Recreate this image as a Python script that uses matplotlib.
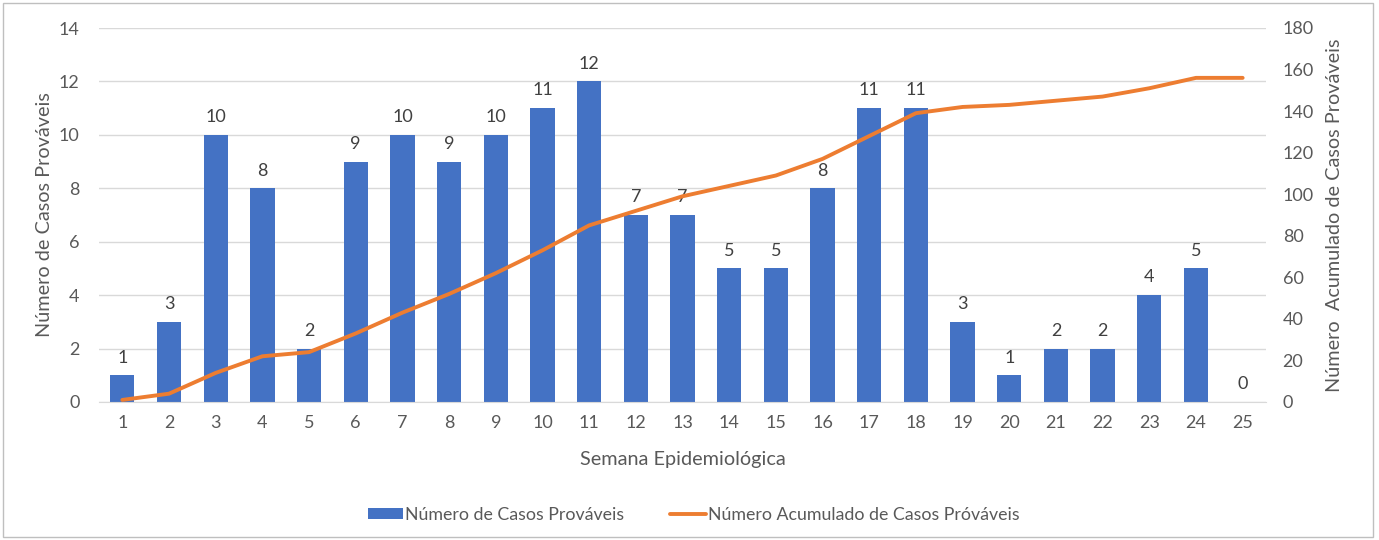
import matplotlib
matplotlib.use("Agg")
import matplotlib.pyplot as plt
from matplotlib.patches import Rectangle
import numpy as np

weeks = list(range(1, 26))
cases = [1, 3, 10, 8, 2, 9, 10, 9, 10, 11, 12, 7, 7, 5, 5, 8, 11, 11, 3, 1, 2, 2, 4, 5, 0]
cumulative = [1, 4, 14, 22, 24, 33, 43, 52, 62, 73, 85, 92, 99, 104, 109, 117, 128, 139, 142, 143, 145, 147, 151, 156, 156]

BLUE = "#4472C4"
ORANGE = "#ED7D31"
GRID = "#D9D9D9"
TXT = "#595959"

plt.rcParams['font.family'] = ['Lato', 'DejaVu Sans']

W, H = 1379, 540
fig = plt.figure(figsize=(W / 100, H / 100), dpi=100)
fig.patches.append(Rectangle((3 / W, 3 / H), (1373 - 3) / W, (537 - 3) / H, transform=fig.transFigure,
                             fill=False, edgecolor="#BFBFBF", linewidth=1))

left, right = 99 / W, 1266 / W
bottom, top = 1 - 402 / H, 1 - 28 / H
ax = fig.add_axes([left, bottom, right - left, top - bottom])
ax2 = ax.twinx()

ax.bar(weeks, cases, width=0.52, color=BLUE, zorder=2, label="Número de Casos Prováveis")
for x, v in zip(weeks, cases):
    ax.annotate(str(v), (x, v), xytext=(0, 7), textcoords="offset points", ha="center", va="bottom",
                fontsize=13, color="#404040")

ax2.plot(weeks, cumulative, color=ORANGE, linewidth=2.8, solid_capstyle="round", zorder=3,
         label="Número Acumulado de Casos Próváveis")

ax.set_xlim(0.5, 25.5)
ax.set_ylim(0, 14)
ax.set_yticks(range(0, 15, 2))
ax2.set_ylim(0, 180)
ax2.set_yticks(range(0, 181, 20))
ax.set_xticks(weeks)

ax.grid(axis="y", color=GRID, linewidth=1, zorder=0)
ax.set_axisbelow(True)
for a in (ax, ax2):
    for s in a.spines.values():
        s.set_visible(False)
    a.tick_params(length=0, labelsize=13, labelcolor=TXT)
ax.spines["bottom"].set_visible(True)
ax.spines["bottom"].set_color(GRID)
ax.tick_params(axis="x", pad=9)
ax.tick_params(axis="y", pad=14)
ax2.tick_params(axis="y", pad=12)

ax.set_xlabel("Semana Epidemiológica", fontsize=14.3, color=TXT, labelpad=15)
ax.set_ylabel("Número de Casos Prováveis", fontsize=14.3, color=TXT, labelpad=4)
ax2.set_ylabel("Número  Acumulado de Casos Prováveis", fontsize=14.3, color=TXT, labelpad=9)

h1, l1 = ax.get_legend_handles_labels()
h2, l2 = ax2.get_legend_handles_labels()
fig.legend(h1 + h2, l1 + l2, loc="center", bbox_to_anchor=(0.503, 1 - 515 / H), ncol=2, frameon=False,
           fontsize=12.8, labelcolor=TXT, handlelength=2.0, handletextpad=0.1, columnspacing=2.6,
           handleheight=0.6)

fig.savefig("out.png", dpi=100)
